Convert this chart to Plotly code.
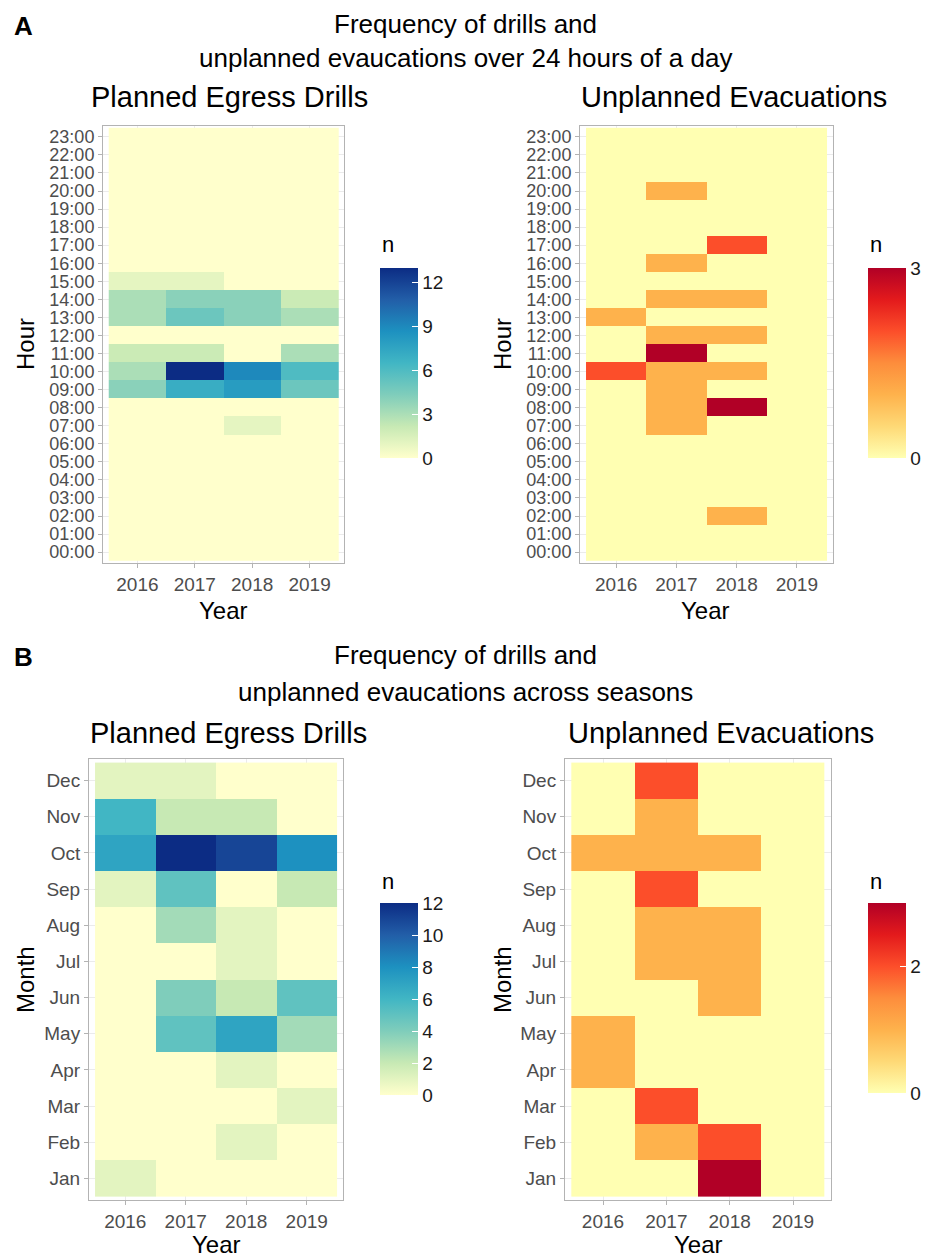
import plotly.graph_objects as go

# The page body has an 8px margin, so the figure is drawn from (8, 8).
OFF = 8
W, H = 930 - OFF, 1259 - OFF

years = ["2016", "2017", "2018", "2019"]
hours = ["00:00", "01:00", "02:00", "03:00", "04:00", "05:00", "06:00", "07:00",
         "08:00", "09:00", "10:00", "11:00", "12:00", "13:00", "14:00", "15:00",
         "16:00", "17:00", "18:00", "19:00", "20:00", "21:00", "22:00", "23:00"]
months = ["Jan", "Feb", "Mar", "Apr", "May", "Jun", "Jul", "Aug", "Sep", "Oct", "Nov", "Dec"]

# Planned egress drills by hour (00:00 .. 23:00)
drills_hour_2016 = [0, 0, 0, 0, 0, 0, 0, 0, 0, 4, 3, 2, 0, 3, 3, 1, 0, 0, 0, 0, 0, 0, 0, 0]
drills_hour_2017 = [0, 0, 0, 0, 0, 0, 0, 0, 0, 7, 13, 2, 0, 5, 4, 1, 0, 0, 0, 0, 0, 0, 0, 0]
drills_hour_2018 = [0, 0, 0, 0, 0, 0, 0, 1, 0, 8, 9, 0, 0, 4, 4, 0, 0, 0, 0, 0, 0, 0, 0, 0]
drills_hour_2019 = [0, 0, 0, 0, 0, 0, 0, 0, 0, 5, 6, 3, 0, 3, 2, 0, 0, 0, 0, 0, 0, 0, 0, 0]

# Unplanned evacuations by hour
evac_hour_2016 = [0, 0, 0, 0, 0, 0, 0, 0, 0, 0, 2, 0, 0, 1, 0, 0, 0, 0, 0, 0, 0, 0, 0, 0]
evac_hour_2017 = [0, 0, 0, 0, 0, 0, 0, 1, 1, 1, 1, 3, 1, 0, 1, 0, 1, 0, 0, 0, 1, 0, 0, 0]
evac_hour_2018 = [0, 0, 1, 0, 0, 0, 0, 0, 3, 0, 1, 0, 1, 0, 1, 0, 0, 2, 0, 0, 0, 0, 0, 0]
evac_hour_2019 = [0, 0, 0, 0, 0, 0, 0, 0, 0, 0, 0, 0, 0, 0, 0, 0, 0, 0, 0, 0, 0, 0, 0, 0]

# Planned egress drills by month (Jan .. Dec)
drills_month_2016 = [1, 0, 0, 0, 0, 0, 0, 0, 1, 7, 6, 1]
drills_month_2017 = [0, 0, 0, 0, 5, 4, 0, 3, 5, 12, 2, 1]
drills_month_2018 = [0, 1, 0, 1, 7, 2, 1, 1, 0, 11, 2, 0]
drills_month_2019 = [0, 0, 1, 0, 3, 5, 0, 0, 2, 8, 0, 0]

# Unplanned evacuations by month
evac_month_2016 = [0, 0, 0, 1, 1, 0, 0, 0, 0, 1, 0, 0]
evac_month_2017 = [0, 1, 2, 0, 0, 0, 1, 1, 2, 1, 1, 2]
evac_month_2018 = [3, 2, 0, 0, 0, 1, 1, 1, 0, 1, 0, 0]
evac_month_2019 = [0, 0, 0, 0, 0, 0, 0, 0, 0, 0, 0, 0]

YLGNBU = ["#ffffcc", "#c7e9b4", "#7fcdbb", "#41b6c4", "#1d91c0", "#225ea8", "#0c2c84"]
YLORRD = ["#ffffb2", "#fed976", "#feb24c", "#fd8d3c", "#fc4e2a", "#e31a1c", "#b10026"]


def scale(cols):
    n = len(cols) - 1
    return [[i / n, c] for i, c in enumerate(cols)]


def transpose(cols):
    return [list(r) for r in zip(*cols)]


def px(x):
    return (x - OFF) / W


def py(y):
    return 1 - (y - OFF) / H


FONT = "Liberation Sans, Arial, sans-serif"

fig = go.Figure()

panels = [
    ([drills_hour_2016, drills_hour_2017, drills_hour_2018, drills_hour_2019], hours, 13, YLGNBU,
     [0, 3, 6, 9, 12], "", (103, 344), (126, 563), 380, (268, 458), 18),
    ([evac_hour_2016, evac_hour_2017, evac_hour_2018, evac_hour_2019], hours, 3, YLORRD,
     [0, 3], "2", (580, 833), (126, 563), 868, (268, 458), 18),
    ([drills_month_2016, drills_month_2017, drills_month_2018, drills_month_2019], months, 12, YLGNBU,
     [0, 2, 4, 6, 8, 10, 12], "3", (89, 343), (759, 1200), 380, (903, 1095), 19),
    ([evac_month_2016, evac_month_2017, evac_month_2018, evac_month_2019], months, 3, YLORRD,
     [0, 2], "4", (565, 831), (759, 1200), 868, (903, 1093), 19),
]

layout_axes = {}
for cols, ycats, zmax, colors, ticks, sfx, xd, yd, cbx, cby, yfs in panels:
    fig.add_trace(go.Heatmap(
        x=years, y=ycats, z=transpose(cols),
        zmin=0, zmax=zmax, colorscale=scale(colors),
        xaxis="x" + sfx, yaxis="y" + sfx,
        hovertemplate="%{x} %{y}: %{z}<extra></extra>",
        colorbar=dict(
            x=px(cbx), xanchor="left", xpad=0, ypad=0,
            y=py((cby[0] + cby[1]) / 2), yanchor="middle",
            len=cby[1] - cby[0], lenmode="pixels", thickness=38,
            outlinewidth=0, ticks="inside", ticklen=6, tickcolor="white",
            tickvals=ticks, tickfont=dict(size=19, color="#1a1a1a", family=FONT),
        ),
    ))
    common = dict(showline=True, mirror=True, linecolor="#b3b3b3", linewidth=1,
                  ticks="outside", ticklen=4, tickcolor="#b3b3b3", showgrid=True,
                  gridcolor="#ebebeb", zeroline=False, type="category")
    layout_axes["xaxis" + sfx] = dict(common, domain=[px(xd[0]), px(xd[1])],
                                      anchor="y" + sfx, range=[-0.6, len(years) - 0.4],
                                      tickmode="array", tickvals=years, ticktext=years,
                                      tickfont=dict(size=19, color="#4d4d4d", family=FONT))
    layout_axes["yaxis" + sfx] = dict(common, domain=[py(yd[1]), py(yd[0])],
                                      anchor="x" + sfx, range=[-0.6, len(ycats) - 0.4],
                                      tickmode="array", tickvals=ycats, ticktext=ycats,
                                      tickfont=dict(size=yfs, color="#4d4d4d", family=FONT))

fig.update_layout(**layout_axes)

ann = []


def text(t, x, y, size, bold=False, anchor="center", angle=0):
    ann.append(dict(text=("<b>%s</b>" % t) if bold else t, x=px(x), y=py(y),
                    xref="paper", yref="paper", showarrow=False, xanchor=anchor,
                    yanchor="middle", textangle=angle,
                    font=dict(size=size, color="black", family=FONT)))


text("A", 12, 26, 26, bold=True, anchor="left")
text("Frequency of drills and", 465, 24, 26)
text("unplanned evaucations over 24 hours of a day", 465, 58, 26)
text("Planned Egress Drills", 229, 97, 29)
text("Unplanned Evacuations", 734, 97, 29)
text("Hour", 25, 344, 24, angle=-90)
text("Hour", 502, 344, 24, angle=-90)
text("Year", 223, 610, 24)
text("Year", 705, 610, 24)
text("n", 380, 245, 22, anchor="left")
text("n", 868, 245, 22, anchor="left")

text("B", 12, 657, 26, bold=True, anchor="left")
text("Frequency of drills and", 465, 655, 26)
text("unplanned evaucations across seasons", 465, 692, 26)
text("Planned Egress Drills", 228, 733, 29)
text("Unplanned Evacuations", 721, 733, 29)
text("Month", 25, 980, 24, angle=-90)
text("Month", 502, 980, 24, angle=-90)
text("Year", 216, 1244, 24)
text("Year", 698, 1244, 24)
text("n", 380, 882, 22, anchor="left")
text("n", 868, 882, 22, anchor="left")

fig.update_layout(
    width=W, height=H, margin=dict(l=0, r=0, t=0, b=0),
    paper_bgcolor="white", plot_bgcolor="white",
    font=dict(family=FONT, color="black"),
    annotations=ann, showlegend=False,
)

fig.write_html("out.html")
